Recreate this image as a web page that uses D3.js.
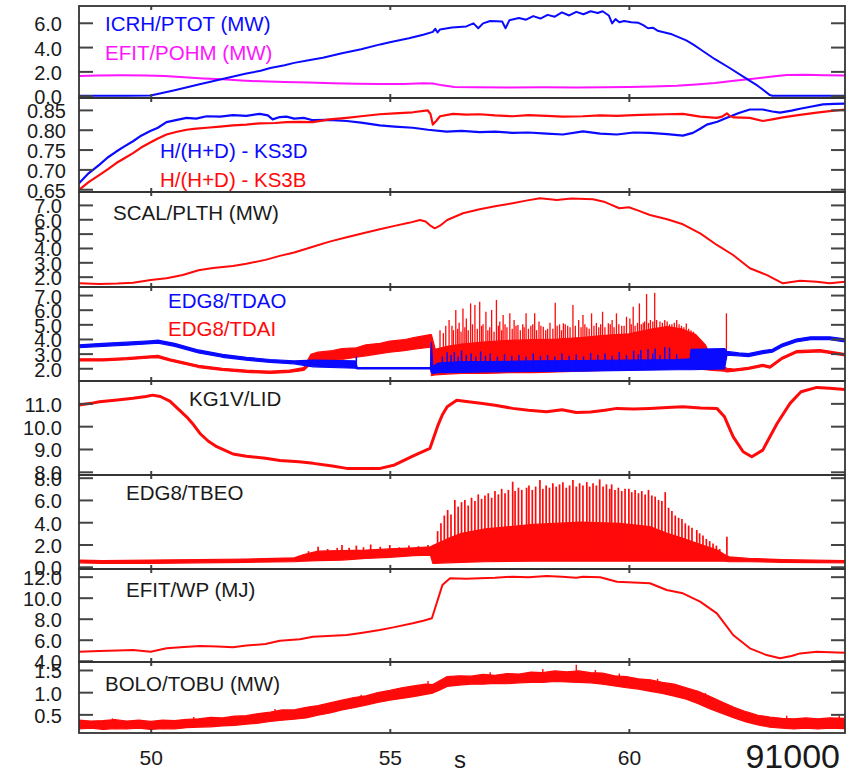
<!DOCTYPE html>
<html>
<head>
<meta charset="utf-8">
<script src="https://cdn.jsdelivr.net/npm/d3@7"></script>
<style>
  body { margin: 0; background: #fff; }
  svg text { font-family: "Liberation Sans", Arial, sans-serif; }
</style>
</head>
<body>
<svg id="chart" width="856" height="776"></svg>
<script>
// ---- data (time in s) ----
const timeTicks = [50, 55, 60];
const shotNumber = "91000";

// panel 1
const icrhPtot = [[48.5,0],[49.5,0],[50.0,0.02],[50.5,0.45],[51.0,0.92],[51.5,1.38],[52.0,1.82],[52.3,2.05],[52.5,2.28],[52.8,2.5],[53.0,2.7],[53.3,2.92],[53.6,3.12],[54.0,3.5],[54.4,3.82],[54.8,4.22],[55.0,4.4],[55.4,4.72],[55.7,5.02],[55.9,5.25],[55.95,5.5],[56.0,5.2],[56.05,5.45],[56.3,5.62],[56.6,5.7],[56.75,5.95],[56.85,5.55],[56.95,5.95],[57.1,6.15],[57.35,6.1],[57.42,5.55],[57.5,6.2],[57.7,6.4],[57.85,6.25],[58.0,6.55],[58.15,6.35],[58.3,6.65],[58.45,6.5],[58.6,6.85],[58.75,6.6],[58.9,6.9],[59.05,6.7],[59.2,6.95],[59.35,6.8],[59.45,6.95],[59.58,6.6],[59.65,5.95],[59.72,6.3],[59.8,6.05],[59.9,6.15],[60.05,6.05],[60.2,6.0],[60.3,5.8],[60.4,5.55],[60.5,5.6],[60.6,5.35],[60.75,5.2],[60.9,5.05],[61.05,4.8],[61.2,4.55],[61.35,4.2],[61.5,3.8],[61.8,3.0],[62.1,2.3],[62.4,1.55],[62.7,0.8],[62.95,0.05],[63.0,0],[64.52,0]];
const efitPohm = [[48.5,1.62],[48.9,1.66],[49.4,1.68],[49.9,1.66],[50.3,1.62],[50.7,1.52],[51.1,1.42],[51.5,1.35],[51.9,1.25],[52.3,1.18],[52.8,1.12],[53.3,1.08],[53.8,1.02],[54.3,0.98],[54.8,0.96],[55.3,0.97],[55.7,1.02],[55.9,1.0],[56.1,0.85],[56.35,0.72],[56.8,0.7],[57.5,0.68],[58.2,0.7],[58.9,0.68],[59.5,0.7],[60.0,0.72],[60.5,0.75],[61.0,0.82],[61.4,0.92],[61.8,1.05],[62.2,1.22],[62.6,1.4],[63.0,1.58],[63.3,1.7],[63.7,1.72],[64.1,1.68],[64.52,1.66]];

// panel 2
const ks3d = [[48.5,0.665],[48.7,0.69],[48.93,0.712],[49.1,0.73],[49.28,0.745],[49.45,0.758],[49.63,0.771],[49.8,0.785],[49.98,0.796],[50.15,0.805],[50.33,0.819],[50.55,0.825],[50.75,0.83],[50.95,0.828],[51.17,0.834],[51.45,0.833],[51.72,0.837],[52.0,0.835],[52.28,0.84],[52.45,0.836],[52.55,0.826],[52.7,0.832],[52.84,0.833],[53.0,0.828],[53.2,0.83],[53.39,0.824],[53.7,0.825],[54.1,0.822],[54.4,0.818],[54.79,0.811],[55.1,0.808],[55.48,0.805],[55.8,0.8],[56.19,0.795],[56.5,0.797],[56.88,0.794],[57.2,0.795],[57.57,0.792],[57.9,0.793],[58.28,0.79],[58.62,0.788],[59.04,0.796],[59.4,0.79],[59.75,0.788],[60.1,0.793],[60.44,0.792],[60.8,0.789],[61.13,0.785],[61.34,0.792],[61.5,0.803],[61.63,0.813],[61.85,0.82],[62.05,0.83],[62.3,0.842],[62.53,0.851],[62.8,0.851],[63.0,0.846],[63.16,0.843],[63.4,0.848],[63.58,0.853],[63.8,0.858],[64.06,0.864],[64.3,0.865],[64.52,0.866]];
const ks3b = [[48.5,0.648],[48.7,0.668],[48.93,0.686],[49.1,0.7],[49.28,0.716],[49.45,0.728],[49.63,0.741],[49.8,0.755],[49.98,0.767],[50.15,0.778],[50.33,0.788],[50.55,0.795],[50.75,0.8],[50.95,0.803],[51.17,0.805],[51.45,0.808],[51.72,0.811],[52.0,0.813],[52.28,0.816],[52.6,0.817],[52.84,0.819],[53.1,0.82],[53.39,0.819],[53.74,0.826],[54.1,0.83],[54.4,0.834],[54.79,0.839],[55.1,0.841],[55.48,0.844],[55.79,0.849],[55.85,0.84],[55.9,0.813],[55.97,0.822],[56.05,0.834],[56.32,0.84],[56.6,0.838],[56.88,0.839],[57.2,0.836],[57.57,0.834],[57.9,0.837],[58.28,0.835],[58.62,0.833],[59.04,0.834],[59.4,0.836],[59.75,0.835],[60.1,0.837],[60.44,0.838],[60.8,0.839],[61.13,0.84],[61.49,0.833],[61.84,0.83],[61.95,0.833],[62.05,0.841],[62.12,0.834],[62.2,0.831],[62.53,0.83],[62.8,0.822],[63.0,0.826],[63.22,0.831],[63.5,0.836],[63.93,0.843],[64.2,0.847],[64.52,0.851]];

// panel 3
const scalPlth = [[48.5,1.54],[48.93,1.49],[49.3,1.52],[49.63,1.58],[50.0,1.77],[50.33,1.89],[50.67,2.12],[51.0,2.45],[51.3,2.6],[51.72,2.75],[52.0,2.9],[52.4,3.17],[52.7,3.45],[53.0,3.68],[53.39,4.09],[53.74,4.44],[54.1,4.75],[54.44,5.03],[54.79,5.3],[55.1,5.54],[55.4,5.75],[55.63,5.95],[55.75,5.84],[55.85,5.55],[55.94,5.37],[56.05,5.55],[56.2,5.95],[56.53,6.42],[56.88,6.7],[57.2,6.9],[57.57,7.12],[57.85,7.3],[58.14,7.47],[58.35,7.4],[58.49,7.35],[58.8,7.45],[59.25,7.4],[59.5,7.2],[59.8,6.77],[60.0,6.84],[60.2,6.6],[60.44,6.3],[60.8,6.0],[61.13,5.65],[61.5,5.0],[61.84,4.21],[62.18,3.51],[62.53,2.59],[62.88,2.12],[63.22,1.54],[63.58,1.72],[63.93,1.65],[64.2,1.54],[64.52,1.65]];

// panel 4: [t, low, high]
const tdai = [[48.5,2.5,2.65],[49.0,2.5,2.65],[49.5,2.58,2.72],[50.0,2.7,2.85],[50.15,2.72,2.88],[50.4,2.5,2.65],[51.0,2.05,2.2],[51.5,1.85,2.0],[52.0,1.72,1.87],[52.5,1.65,1.8],[52.9,1.72,1.87],[53.2,1.85,2.05],[53.35,2.3,2.95],[53.5,2.35,3.1],[53.8,2.55,3.2],[54.0,2.6,3.35],[54.3,2.75,3.4],[54.5,2.85,3.6],[54.8,3.0,3.7],[55.0,3.1,3.85],[55.3,3.2,3.95],[55.5,3.3,4.1],[55.85,3.45,4.3],[55.87,1.5,4.3],[55.95,1.55,3.3],[56.2,1.6,3.5],[56.5,1.65,3.65],[57.0,1.65,3.8],[57.5,1.7,3.9],[58.0,1.7,3.95],[58.5,1.75,4.0],[59.0,1.8,4.1],[59.5,1.85,4.25],[60.0,1.9,4.35],[60.5,1.95,4.7],[60.8,2.0,4.85],[61.1,2.0,4.7],[61.4,1.95,4.3],[61.6,1.9,3.6],[61.75,1.85,2.5],[62.0,1.8,2.1],[62.05,1.75,2.0],[62.2,1.8,1.95],[62.5,1.92,2.07],[62.8,2.12,2.27],[62.95,2.0,2.15],[63.2,2.6,2.75],[63.5,3.05,3.2],[64.0,3.12,3.27],[64.52,2.85,3.0]];
const tdaiSpikes = [[56.05,4.6],[56.12,4.4],[56.17,4.9],[56.24,5.29],[56.3,4.9],[56.33,4.6],[56.38,5.98],[56.42,4.7],[56.45,5.1],[56.49,4.5],[56.53,6.09],[56.57,4.8],[56.6,5.4],[56.64,4.6],[56.69,6.43],[56.73,5.0],[56.78,6.32],[56.83,4.7],[56.88,6.54],[56.92,4.9],[56.95,5.0],[57.01,5.86],[57.05,4.6],[57.09,4.8],[57.13,5.98],[57.18,4.5],[57.23,6.66],[57.27,4.9],[57.3,5.2],[57.34,4.6],[57.37,5.64],[57.41,5.0],[57.45,4.8],[57.51,5.75],[57.56,4.7],[57.6,5.3],[57.64,4.9],[57.68,4.95],[57.73,4.6],[57.78,5.0],[57.81,4.8],[57.85,5.75],[57.9,4.7],[57.95,4.9],[57.99,5.0],[58.03,5.75],[58.07,4.6],[58.12,5.2],[58.16,4.9],[58.21,4.84],[58.26,4.6],[58.3,4.7],[58.35,5.1],[58.41,4.7],[58.46,6.48],[58.5,4.9],[58.55,5.0],[58.59,4.6],[58.63,5.07],[58.67,5.0],[58.72,4.9],[58.77,4.8],[58.83,6.32],[58.88,4.9],[58.95,5.3],[59.0,4.8],[59.04,5.64],[59.08,5.0],[59.12,4.8],[59.17,4.7],[59.22,5.75],[59.27,4.9],[59.32,5.1],[59.37,4.8],[59.41,5.0],[59.45,5.86],[59.5,4.8],[59.57,5.07],[59.61,5.0],[59.65,5.3],[59.69,4.8],[59.74,5.75],[59.79,5.0],[59.85,4.9],[59.9,4.9],[59.95,5.52],[60.02,5.4],[60.05,5.0],[60.09,6.2],[60.13,4.9],[60.18,5.1],[60.22,6.43],[60.26,5.0],[60.3,5.1],[60.33,5.2],[60.37,7.07],[60.41,5.1],[60.45,5.3],[60.5,5.2],[60.54,7.16],[60.58,5.3],[60.65,5.2],[60.7,5.1],[60.75,5.29],[60.8,5.2],[60.85,5.0],[60.9,5.0],[60.95,5.1],[61.0,5.3],[61.05,5.0],[61.1,4.9],[61.15,4.8],[61.2,5.05],[61.25,4.7],[61.3,4.6],[61.35,4.5],[62.04,5.75]];
const tdao = [[48.5,3.4,3.6],[49.0,3.5,3.7],[49.5,3.58,3.78],[50.0,3.68,3.88],[50.15,3.72,3.92],[50.5,3.5,3.7],[51.0,3.05,3.25],[51.5,2.75,2.95],[52.0,2.55,2.75],[52.5,2.4,2.6],[53.0,2.3,2.5],[53.4,2.1,2.55],[54.28,2.0,2.5],[54.32,1.95,2.05],[55.0,1.95,2.05],[55.85,1.95,2.05],[55.87,1.7,3.75],[55.9,1.65,2.1],[56.0,1.7,2.35],[56.5,1.72,2.45],[57.0,1.75,2.45],[58.0,1.78,2.5],[59.0,1.8,2.52],[60.0,1.85,2.55],[61.0,1.9,2.6],[61.28,1.9,2.65],[61.3,1.9,3.3],[62.0,1.95,3.35],[62.05,2.9,3.15],[62.3,2.85,3.05],[62.5,2.8,3.0],[62.8,3.0,3.2],[63.0,3.1,3.3],[63.2,3.45,3.65],[63.5,3.8,4.0],[63.8,3.95,4.15],[64.2,3.95,4.15],[64.52,3.8,4.0]];
const tdaoSpikes = [[54.3,2.8],[56.1,2.8],[56.2,3.1],[56.28,2.9],[56.35,3.1],[56.43,2.8],[56.5,3.2],[56.6,2.9],[56.7,3.0],[56.8,2.8],[56.9,3.15],[57.0,2.85],[57.1,3.0],[57.25,2.8],[57.4,2.95],[57.55,2.85],[57.7,2.9],[57.85,2.8],[58.0,3.0],[58.15,2.85],[58.3,2.9],[58.45,2.8],[58.6,3.0],[58.75,2.85],[58.9,2.95],[59.05,2.8],[59.2,3.05],[59.35,2.9],[59.5,3.0],[59.65,2.85],[59.8,3.1],[59.95,2.9],[60.1,3.2],[60.2,2.95],[60.25,3.25],[60.4,3.3],[60.5,3.0],[60.55,3.35],[60.65,2.9],[60.75,3.45],[60.85,3.4],[61.0,2.95]];

// panel 5
const kg1vLid = [[48.5,10.93],[48.75,11.0],[48.93,11.07],[49.3,11.15],[49.63,11.22],[49.9,11.3],[50.04,11.36],[50.2,11.3],[50.4,11.1],[50.55,10.8],[50.75,10.41],[50.9,10.05],[51.03,9.68],[51.2,9.35],[51.38,9.1],[51.6,8.9],[51.72,8.78],[52.0,8.68],[52.4,8.59],[52.7,8.5],[53.1,8.44],[53.4,8.37],[53.8,8.25],[54.1,8.15],[54.5,8.14],[54.8,8.15],[55.1,8.3],[55.48,8.69],[55.7,8.9],[55.84,9.03],[55.9,9.39],[56.0,10.0],[56.1,10.5],[56.2,10.85],[56.4,11.14],[56.6,11.08],[56.9,11.0],[57.2,10.92],[57.57,10.78],[57.9,10.7],[58.28,10.63],[58.6,10.72],[58.9,10.6],[59.2,10.62],[59.5,10.7],[59.75,10.78],[60.1,10.75],[60.44,10.78],[60.8,10.82],[61.13,10.85],[61.5,10.8],[61.84,10.78],[62.0,10.41],[62.18,9.54],[62.39,8.88],[62.57,8.66],[62.8,8.95],[63.1,10.12],[63.37,11.0],[63.6,11.51],[63.93,11.7],[64.2,11.66],[64.52,11.61]];

// panel 6: [t, low, high]
const tbeo = [[48.5,0.35,0.6],[49.0,0.3,0.55],[50.0,0.3,0.6],[51.0,0.35,0.65],[52.0,0.4,0.7],[53.0,0.45,0.8],[53.2,0.5,1.1],[53.5,0.55,1.4],[54.0,0.6,1.45],[54.5,0.75,1.5],[55.0,0.85,1.6],[55.5,1.0,1.7],[55.85,1.05,1.8],[55.9,0.3,1.9],[56.2,0.35,2.5],[56.5,0.4,3.0],[57.0,0.45,3.4],[58.0,0.5,3.8],[59.0,0.5,4.0],[59.8,0.5,3.9],[60.44,0.5,3.6],[60.8,0.5,3.0],[61.1,0.5,2.6],[61.5,0.5,2.0],[61.85,0.5,1.5],[62.0,0.5,1.1],[62.1,0.45,0.9],[62.5,0.45,0.75],[63.2,0.4,0.65],[64.52,0.35,0.55]];
const tbeoSpikes = [[53.3,1.4],[53.5,1.8],[53.7,1.6],[53.9,1.7],[54.0,1.95],[54.15,1.7],[54.3,1.9],[54.45,1.75],[54.6,2.0],[54.8,1.8],[55.0,1.95],[55.2,1.75],[55.4,1.9],[55.6,1.85],[55.8,1.95],[56.0,3.2],[56.07,3.9],[56.14,4.6],[56.21,5.1],[56.28,4.7],[56.36,6.0],[56.43,5.4],[56.5,5.8],[56.57,6.0],[56.64,5.5],[56.71,6.2],[56.78,5.9],[56.85,6.5],[56.92,6.1],[56.99,6.4],[57.06,6.6],[57.13,6.2],[57.2,6.8],[57.27,6.5],[57.34,7.0],[57.41,6.6],[57.48,6.9],[57.57,7.64],[57.62,6.8],[57.69,7.1],[57.76,6.9],[57.86,7.1],[57.91,7.3],[57.98,6.9],[58.05,7.2],[58.14,7.79],[58.2,7.0],[58.27,7.3],[58.34,7.1],[58.41,7.5],[58.48,7.2],[58.55,7.4],[58.62,7.6],[58.69,7.1],[58.76,7.3],[58.83,7.79],[58.9,7.2],[58.97,7.5],[59.04,7.3],[59.12,7.6],[59.18,7.2],[59.25,7.5],[59.32,7.3],[59.39,7.85],[59.46,7.2],[59.53,7.4],[59.6,7.0],[59.64,7.4],[59.71,6.9],[59.78,7.1],[59.85,6.8],[59.92,7.0],[60.0,7.0],[60.06,6.7],[60.13,6.9],[60.2,6.6],[60.27,6.8],[60.34,6.5],[60.41,6.9],[60.48,6.4],[60.55,6.3],[60.62,6.0],[60.69,5.9],[60.76,6.7],[60.83,5.3],[60.9,5.0],[60.97,4.6],[61.04,4.4],[61.11,4.3],[61.18,3.9],[61.25,3.7],[61.32,3.5],[61.42,3.3],[61.48,3.0],[61.55,2.8],[61.62,2.5],[61.69,2.3],[61.76,2.1],[61.83,1.9],[61.9,1.6],[62.05,2.7]];

// panel 7
const efitWp = [[48.5,4.86],[48.93,4.92],[49.3,4.98],[49.63,5.02],[50.0,4.86],[50.33,5.18],[50.7,5.3],[51.03,5.4],[51.4,5.35],[51.72,5.28],[52.0,5.45],[52.4,5.59],[52.7,5.9],[53.12,6.04],[53.39,6.29],[53.8,6.38],[54.1,6.45],[54.4,6.65],[54.79,6.92],[55.1,7.2],[55.48,7.56],[55.7,7.8],[55.88,8.04],[55.98,9.47],[56.1,11.2],[56.26,11.85],[56.6,11.8],[56.88,11.85],[57.2,11.9],[57.57,12.0],[57.9,11.95],[58.28,12.06],[58.6,12.0],[58.9,11.9],[59.04,12.0],[59.4,11.95],[59.75,11.52],[60.1,11.45],[60.44,11.37],[60.79,10.73],[61.13,10.42],[61.49,9.62],[61.84,8.51],[62.05,7.24],[62.18,6.45],[62.53,5.18],[62.88,4.54],[63.16,4.23],[63.4,4.45],[63.58,4.7],[63.93,4.86],[64.2,4.8],[64.52,4.76]];

// panel 8: [t, low, high]
const boloTobu = [[48.5,0.17,0.37],[48.75,0.19,0.35],[49.0,0.16,0.36],[49.25,0.18,0.38],[49.5,0.17,0.35],[49.75,0.19,0.37],[50.0,0.16,0.34],[50.25,0.18,0.37],[50.5,0.17,0.36],[50.75,0.2,0.39],[51.0,0.21,0.4],[51.25,0.22,0.43],[51.5,0.24,0.42],[51.75,0.25,0.46],[52.0,0.28,0.47],[52.25,0.3,0.52],[52.5,0.34,0.55],[52.75,0.37,0.6],[53.0,0.39,0.6],[53.25,0.42,0.66],[53.5,0.48,0.7],[53.75,0.53,0.76],[54.0,0.6,0.82],[54.25,0.65,0.88],[54.5,0.71,0.92],[54.75,0.77,0.99],[55.0,0.82,1.04],[55.25,0.86,1.1],[55.5,0.9,1.14],[55.75,0.95,1.18],[55.9,0.98,1.17],[56.05,1.05,1.26],[56.2,1.13,1.35],[56.45,1.16,1.37],[56.7,1.18,1.36],[56.95,1.18,1.4],[57.2,1.2,1.38],[57.45,1.19,1.42],[57.7,1.21,1.41],[57.95,1.22,1.45],[58.2,1.22,1.44],[58.45,1.24,1.48],[58.7,1.23,1.46],[58.95,1.22,1.48],[59.2,1.21,1.44],[59.45,1.18,1.43],[59.7,1.14,1.37],[59.95,1.1,1.35],[60.2,1.07,1.3],[60.45,1.02,1.28],[60.7,0.97,1.22],[60.95,0.91,1.18],[61.2,0.84,1.1],[61.45,0.74,1.02],[61.7,0.62,0.9],[61.95,0.52,0.78],[62.2,0.42,0.66],[62.45,0.33,0.56],[62.7,0.26,0.48],[62.95,0.21,0.44],[63.2,0.19,0.41],[63.45,0.17,0.4],[63.7,0.19,0.42],[63.95,0.17,0.4],[64.2,0.19,0.42],[64.52,0.18,0.41]];
// noise spikes: [t, from, to]
const boloSpikes = [[49.2,0.2,0.41],[50.9,0.2,0.44],[52.6,0.4,0.62],[54.4,0.75,0.94],[55.8,1.0,1.25],[57.1,1.25,1.45],[58.2,1.3,1.52],[58.9,1.3,1.62],[59.3,1.3,1.5],[59.8,1.2,1.42],[60.6,1.1,1.3],[61.6,0.75,0.98],[63.3,0.25,0.47],[64.4,0.25,0.48]];

// panel y ticks
const yTicks = [
  [0, 2, 4, 6],
  [0.65, 0.70, 0.75, 0.80, 0.85],
  [2, 3, 4, 5, 6, 7],
  [2, 3, 4, 5, 6, 7],
  [8, 9, 10, 11],
  [0, 2, 4, 6, 8],
  [4, 6, 8, 10, 12],
  [0.5, 1.0, 1.5]
];
const yDomains = [[-0.19, 7.38], [0.643, 0.880], [1.28, 7.9], [1.13, 7.55], [7.86, 11.98], [-0.2, 8.24], [3.88, 12.73], [0.08, 1.68]];

// ---- layout ----
const blue = "#0a0aff", red = "#ff0a0a", magenta = "#ff14ff", ink = "#1a1a1a";
const left = 79, right = 845;
const panelEdges = [6, 98, 192, 287, 381, 475, 569, 662, 733];

const svg = d3.select("#chart");
const x = d3.scaleLinear().domain([48.5, 64.52]).range([left, right]);

const panels = yDomains.map((dom, i) => {
  const top = panelEdges[i], bottom = panelEdges[i + 1];
  const y = d3.scaleLinear().domain(dom).range([bottom, top]);
  const g = svg.append("g");
  const clipId = "clip" + i;
  svg.append("clipPath").attr("id", clipId)
    .append("rect").attr("x", left).attr("y", top).attr("width", right - left).attr("height", bottom - top);
  const plot = g.append("g").attr("clip-path", `url(#${clipId})`);
  return { y, g, plot, top, bottom };
});

const lineOf = y => d3.line().x(d => x(d[0])).y(d => y(d[1]));
const bandOf = y => d3.area().x(d => x(d[0])).y0(d => y(d[1])).y1(d => y(d[2]));

function drawLine(p, data, color, w) {
  p.plot.append("path").datum(data)
    .attr("fill", "none").attr("stroke", color).attr("stroke-width", w)
    .attr("stroke-linejoin", "round").attr("d", lineOf(p.y));
}
function drawBand(p, data, color) {
  p.plot.append("path").datum(data)
    .attr("fill", color).attr("stroke", color).attr("stroke-width", 1.2)
    .attr("stroke-linejoin", "round").attr("d", bandOf(p.y));
}
function drawSpikes(p, data, base, color, w) {
  p.plot.selectAll(null).data(data).enter().append("line")
    .attr("x1", d => x(d[0])).attr("x2", d => x(d[0]))
    .attr("y1", d => p.y(d.length > 2 ? d[1] : base))
    .attr("y2", d => p.y(d[d.length - 1]))
    .attr("stroke", color).attr("stroke-width", w);
}

// series
drawLine(panels[0], efitPohm, magenta, 2);
drawLine(panels[0], icrhPtot, blue, 2);
drawLine(panels[1], ks3d, blue, 2.2);
drawLine(panels[1], ks3b, red, 2.2);
drawLine(panels[2], scalPlth, red, 2);
drawBand(panels[3], tdai, red);
drawSpikes(panels[3], tdaiSpikes, 2.6, red, 1.3);
drawBand(panels[3], tdao, blue);
drawSpikes(panels[3], tdaoSpikes, 2.0, blue, 1.5);
drawLine(panels[4], kg1vLid, red, 3);
drawBand(panels[5], tbeo, red);
drawSpikes(panels[5], tbeoSpikes, 1.0, red, 1.7);
drawLine(panels[6], efitWp, red, 2);
drawBand(panels[7], boloTobu, red);
drawSpikes(panels[7], boloSpikes, 0, red, 1.4);

// axes, ticks and frames
panels.forEach((p, i) => {
  const fmt = i === 1 ? d3.format(".2f") : d3.format(".1f");
  const yl = p.g.append("g").attr("transform", `translate(${left},0)`)
    .call(d3.axisLeft(p.y).tickValues(yTicks[i]).tickFormat(fmt)
      .tickSizeInner(-14).tickSizeOuter(0).tickPadding(i === 1 ? 13 : 17));
  const yr = p.g.append("g").attr("transform", `translate(${right},0)`)
    .call(d3.axisRight(p.y).tickValues(yTicks[i]).tickFormat("")
      .tickSizeInner(-14).tickSizeOuter(0));
  const xb = p.g.append("g").attr("transform", `translate(0,${p.bottom})`)
    .call(d3.axisBottom(x).tickValues(timeTicks).tickFormat("").tickSizeInner(-4).tickSizeOuter(0));
  const xt = p.g.append("g").attr("transform", `translate(0,${p.top})`)
    .call(d3.axisTop(x).tickValues(timeTicks).tickFormat("").tickSizeInner(-4).tickSizeOuter(0));
  [yl, yr, xb, xt].forEach(a => {
    a.select(".domain").remove();
    a.selectAll("line").attr("stroke", "#444").attr("stroke-width", 2);
  });
  yl.selectAll("text").attr("font-size", 20).attr("fill", ink)
    .attr("font-family", '"Liberation Sans", Arial, sans-serif').attr("dy", "0.4em");
  p.g.append("rect").attr("x", left).attr("y", p.top)
    .attr("width", right - left).attr("height", p.bottom - p.top)
    .attr("fill", "none").attr("stroke", "#333").attr("stroke-width", 1.8);
});

// time axis labels
const xa = svg.append("g").attr("transform", `translate(0,${panelEdges[8]})`)
  .call(d3.axisBottom(x).tickValues(timeTicks).tickFormat(d3.format("d")).tickSize(0).tickPadding(17));
xa.select(".domain").remove();
xa.selectAll("text").attr("font-size", 21).attr("fill", ink)
  .attr("font-family", '"Liberation Sans", Arial, sans-serif');

svg.append("text").attr("x", 460).attr("y", 768).attr("text-anchor", "middle")
  .attr("font-size", 24).attr("fill", ink).text("s");
svg.append("text").attr("x", 840).attr("y", 768).attr("text-anchor", "end")
  .attr("font-size", 34).attr("fill", ink).text(shotNumber);

// signal names
const names = [
  { text: "ICRH/PTOT (MW)", color: blue, x: 105, y: 31 },
  { text: "EFIT/POHM (MW)", color: magenta, x: 105, y: 60 },
  { text: "H/(H+D) - KS3D", color: blue, x: 160, y: 158 },
  { text: "H/(H+D) - KS3B", color: red, x: 160, y: 187 },
  { text: "SCAL/PLTH (MW)", color: ink, x: 113, y: 220 },
  { text: "EDG8/TDAO", color: blue, x: 168, y: 308 },
  { text: "EDG8/TDAI", color: red, x: 168, y: 336 },
  { text: "KG1V/LID", color: ink, x: 189, y: 406 },
  { text: "EDG8/TBEO", color: ink, x: 126, y: 500 },
  { text: "EFIT/WP (MJ)", color: ink, x: 126, y: 597 },
  { text: "BOLO/TOBU (MW)", color: ink, x: 105, y: 691 }
];
svg.selectAll(".name").data(names).enter().append("text")
  .attr("class", "name")
  .attr("x", d => d.x).attr("y", d => d.y)
  .attr("font-size", 20.5).attr("fill", d => d.color)
  .text(d => d.text);
</script>
</body>
</html>
